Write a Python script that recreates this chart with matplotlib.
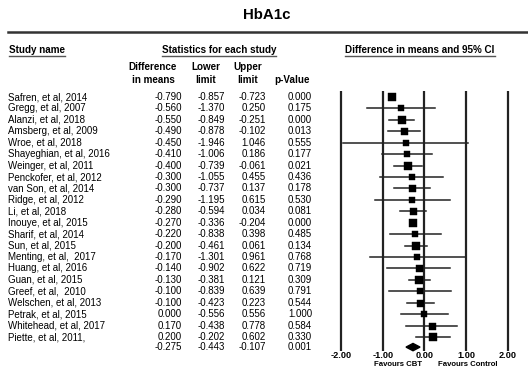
import matplotlib
matplotlib.use("Agg")
import matplotlib.pyplot as plt
from matplotlib.patches import Polygon

plt.rcParams['font.family'] = ['Liberation Sans', 'DejaVu Sans']

studies = ["Safren, et al, 2014", "Gregg, et al, 2007", "Alanzi, et al, 2018", "Amsberg, et al, 2009",
           "Wroe, et al, 2018", "Shayeghian, et al, 2016", "Weinger, et al, 2011", "Penckofer, et al, 2012",
           "van Son, et al, 2014", "Ridge, et al, 2012", "Li, et al, 2018", "Inouye, et al, 2015",
           "Sharif, et al, 2014", "Sun, et al, 2015", "Menting, et al,  2017", "Huang, et al, 2016",
           "Guan, et al, 2015", "Greef, et al,  2010", "Welschen, et al, 2013", "Petrak, et al, 2015",
           "Whitehead, et al, 2017", "Piette, et al, 2011,"]
diff = [-0.790, -0.560, -0.550, -0.490, -0.450, -0.410, -0.400, -0.300, -0.300, -0.290, -0.280,
        -0.270, -0.220, -0.200, -0.170, -0.140, -0.130, -0.100, -0.100, 0.000, 0.170, 0.200]
lower = [-0.857, -1.370, -0.849, -0.878, -1.946, -1.006, -0.739, -1.055, -0.737, -1.195, -0.594,
         -0.336, -0.838, -0.461, -1.301, -0.902, -0.381, -0.839, -0.423, -0.556, -0.438, -0.202]
upper = [-0.723, 0.250, -0.251, -0.102, 1.046, 0.186, -0.061, 0.455, 0.137, 0.615, 0.034,
         -0.204, 0.398, 0.061, 0.961, 0.622, 0.121, 0.639, 0.223, 0.556, 0.778, 0.602]
pvals = [0.000, 0.175, 0.000, 0.013, 0.555, 0.177, 0.021, 0.436, 0.178, 0.530, 0.081,
         0.000, 0.485, 0.134, 0.768, 0.719, 0.309, 0.791, 0.544, 1.000, 0.584, 0.330]
# relative weight -> marker size (pixels)
weights = [8.5, 6, 8, 7, 6, 6.5, 8, 6.5, 7, 6, 7, 8.5, 6.5, 8, 6, 7, 8, 6.5, 7, 6.5, 7, 7.5]
pooled = [-0.275, -0.443, -0.107, 0.001]
xticks = [-2.0, -1.0, 0.0, 1.0, 2.0]

W, H = 528, 367
fig = plt.figure(figsize=(W / 100, H / 100), dpi=100)

def fx(x):
    return x / W

def fy(y):
    return 1 - y / H

# forest axes
ax_l, ax_r, ax_t, ax_b = 330, 520, 85, 355
ax = fig.add_axes([fx(ax_l), fy(ax_b), (ax_r - ax_l) / W, (ax_b - ax_t) / H])
ax.set_xlim(-2.263, 2.287)
row0, step = 97, 11.43
ax.set_ylim((ax_b - row0) / step, (ax_t - row0) / step)
ax.axis('off')

for xv in xticks:
    ax.plot([xv, xv], [-0.53, 22.2], color='#222222', lw=1.6, solid_capstyle='butt')

n = len(studies)
for i in range(n):
    ax.plot([lower[i], upper[i]], [i, i], color='#222222', lw=1.1)
    ax.plot(diff[i], i, marker='s', ms=weights[i] * 0.72, color='black', mec='black', mew=0.3)

yc = n - 0.12
d = Polygon([[pooled[1], yc], [pooled[0], yc - 0.32], [pooled[2], yc], [pooled[0], yc + 0.32]],
            closed=True, color='black')
ax.add_patch(d)

fs = 7.0
hfs = 7.1
# tick labels under forest
for xv in xticks:
    xp = ax.transData.transform((xv, 0))[0]
    fig.text(xp / W, fy(356), f"{xv:.2f}", ha='center', va='center', fontsize=6.6, fontweight='bold')
fig.text(fx(398), fy(364), "Favours CBT", ha='center', va='center', fontsize=5.6, fontweight='bold')
fig.text(fx(468), fy(364), "Favours Control", ha='center', va='center', fontsize=5.6, fontweight='bold')

# title and header
fig.text(fx(267), fy(15), "HbA1c", ha='center', va='center', fontsize=10.8, fontweight='bold')
fig.add_artist(plt.Line2D([fx(8), fx(528)], [fy(32), fy(32)], color='#333333', lw=1.8))

heads = [("Study name", 9, 'left'), ("Statistics for each study", 219, 'center'),
         ("Difference in means and 95% CI", 420, 'center')]
for txt, x, ha in heads:
    fig.text(fx(x), fy(50), txt, ha=ha, va='center', fontsize=hfs, fontweight='bold')
unders = [(9, 65), (162, 276), (345, 495)]
for a, b in unders:
    fig.add_artist(plt.Line2D([fx(a), fx(b)], [fy(56), fy(56)], color='#555555', lw=1.0))

colheads = [("Difference", "in means", 153), ("Lower", "limit", 206), ("Upper", "limit", 248),
            ("", "p-Value", 292)]
for a, b, x in colheads:
    if a:
        fig.text(fx(x), fy(67), a, ha='center', va='center', fontsize=hfs, fontweight='bold')
    fig.text(fx(x), fy(80), b, ha='center', va='center', fontsize=hfs, fontweight='bold')

cols_x = [182, 225, 266, 312]
for i in range(n):
    y = row0 + i * step
    fig.text(fx(8), fy(y), studies[i], ha='left', va='center', fontsize=fs)
    for v, x in zip([diff[i], lower[i], upper[i], pvals[i]], cols_x):
        fig.text(fx(x), fy(y), f"{v:.3f}", ha='right', va='center', fontsize=fs)
yp = row0 + yc * step
for v, x in zip(pooled, cols_x):
    fig.text(fx(x), fy(yp), f"{v:.3f}", ha='right', va='center', fontsize=fs)

fig.savefig("out.png", dpi=100)
